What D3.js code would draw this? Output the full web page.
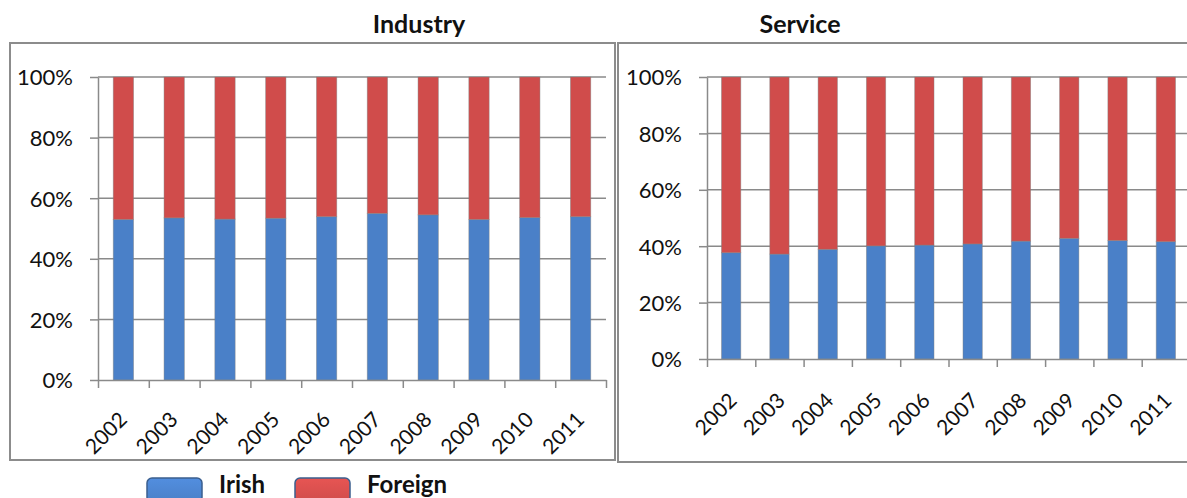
<!DOCTYPE html>
<html>
<head>
<meta charset="utf-8">
<script src="https://cdn.jsdelivr.net/npm/d3@7"></script>
<style>
  html, body { margin: 0; padding: 0; background: #fff; }
  svg { display: block; font-family: Lato, "Open Sans", sans-serif; }
</style>
</head>
<body>
<svg id="chart" width="1187" height="498"></svg>
<script>
// Share of Irish vs foreign, by year, for two sectors (fractions of 1)
const years = ["2002","2003","2004","2005","2006","2007","2008","2009","2010","2011"];
const industryIrish = [0.530, 0.535, 0.531, 0.534, 0.539, 0.550, 0.545, 0.530, 0.536, 0.539];
const serviceIrish  = [0.377, 0.372, 0.389, 0.401, 0.404, 0.408, 0.418, 0.428, 0.420, 0.416];
const yTicks = [0, 0.2, 0.4, 0.6, 0.8, 1.0];
const seriesNames = ["Irish", "Foreign"];
const panelTitles = ["Industry", "Service"];

const colors = { Irish: "#4a80c8", Foreign: "#d04c4b" };
const gridColor = "#8a8a8a";

const svg = d3.select("#chart");

// Outer frames of the two chart panels
svg.append("rect").attr("x", 10).attr("y", 43).attr("width", 605).attr("height", 417)
  .attr("fill", "none").attr("stroke", "#8c8c8c").attr("stroke-width", 2);
svg.append("rect").attr("x", 618).attr("y", 43).attr("width", 620).attr("height", 419)
  .attr("fill", "none").attr("stroke", "#8c8c8c").attr("stroke-width", 2);

function drawPanel(cfg) {
  const g = svg.append("g");
  const x = d3.scaleBand().domain(years).range([cfg.x0, cfg.x1])
    .paddingInner(0.6).paddingOuter(0.3);
  const y = d3.scaleLinear().domain([0, 1]).range([cfg.y0, cfg.y1]);

  // horizontal gridlines
  g.append("g").selectAll("line").data(yTicks.filter(d => d > 0)).join("line")
    .attr("x1", cfg.x0).attr("x2", cfg.x1)
    .attr("y1", d => y(d)).attr("y2", d => y(d))
    .attr("stroke", gridColor).attr("stroke-width", 1.5);

  // stacked bars
  const stacks = d3.stack().keys(seriesNames)(
    years.map((yr, i) => ({ year: yr, Irish: cfg.values[i], Foreign: 1 - cfg.values[i] }))
  );
  stacks.forEach(layer => {
    g.append("g").selectAll("rect").data(layer).join("rect")
      .attr("x", d => x(d.data.year))
      .attr("width", x.bandwidth())
      .attr("y", d => y(d[1]))
      .attr("height", d => y(d[0]) - y(d[1]))
      .attr("fill", colors[layer.key])
      .attr("stroke", "rgba(130,130,130,0.55)")
      .attr("stroke-width", 0.8);
  });

  // y axis
  const yAxis = g.append("g").attr("transform", `translate(${cfg.x0},0)`)
    .call(d3.axisLeft(y).tickValues(yTicks).tickFormat(d3.format(".0%"))
      .tickSize(8).tickPadding(17).tickSizeOuter(0));
  yAxis.select(".domain").attr("stroke", gridColor).attr("stroke-width", 1.5);
  yAxis.selectAll(".tick line").attr("stroke", gridColor).attr("stroke-width", 1.5);
  yAxis.selectAll(".tick text").attr("font-size", 22).attr("fill", "#111")
    .attr("font-family", "Lato, 'Open Sans', sans-serif").attr("dy", "0.36em");

  // x axis with tick marks between categories
  const edge = d3.scaleLinear().domain([0, years.length]).range([cfg.x0, cfg.x1]);
  const xAxis = g.append("g").attr("transform", `translate(0,${cfg.y0})`)
    .call(d3.axisBottom(edge).tickValues(d3.range(0, years.length + 1))
      .tickFormat("").tickSize(8).tickSizeOuter(0));
  xAxis.select(".domain").attr("stroke", gridColor).attr("stroke-width", 1.5);
  xAxis.selectAll(".tick line").attr("stroke", gridColor).attr("stroke-width", 1.5);

  // rotated year labels
  g.append("g").selectAll("text").data(years).join("text")
    .attr("transform", d => `translate(${x(d) + x.bandwidth() / 2 + cfg.lblDx},${cfg.y0 + cfg.lblDy}) rotate(-45)`)
    .attr("text-anchor", "end")
    .attr("font-size", 21).attr("fill", "#111")
    .text(d => d);

  // panel title
  svg.append("text").attr("x", cfg.titleX).attr("y", 33)
    .attr("text-anchor", "middle").attr("font-weight", "bold")
    .attr("font-size", 25).attr("fill", "#111").text(cfg.title);
}

drawPanel({ title: panelTitles[0], values: industryIrish, x0: 98, x1: 606, y0: 380, y1: 77,
  lblDx: 5, lblDy: 41, titleX: 419 });
drawPanel({ title: panelTitles[1], values: serviceIrish, x0: 707, x1: 1190, y0: 359, y1: 77,
  lblDx: 7, lblDy: 43, titleX: 800 });

// legend
const defs = svg.append("defs");
seriesNames.forEach(k => {
  const grad = defs.append("linearGradient").attr("id", "lg-" + k)
    .attr("x1", 0).attr("y1", 0).attr("x2", 0).attr("y2", 1);
  grad.append("stop").attr("offset", "0%").attr("stop-color", d3.color(colors[k]).brighter(0.3));
  grad.append("stop").attr("offset", "100%").attr("stop-color", colors[k]);
});
const legendX = [147, 295];
const legend = svg.append("g").selectAll("g").data(seriesNames).join("g")
  .attr("transform", (d, i) => `translate(${legendX[i]},478)`);
legend.append("rect").attr("width", 55).attr("height", 24).attr("rx", 5)
  .attr("fill", d => `url(#lg-${d})`).attr("stroke", "#3b5f8f").attr("stroke-width", 1.5);
legend.append("text").attr("x", 72).attr("y", 15)
  .attr("font-weight", "bold").attr("font-size", 24).attr("fill", "#111")
  .text(d => d);
</script>
</body>
</html>
